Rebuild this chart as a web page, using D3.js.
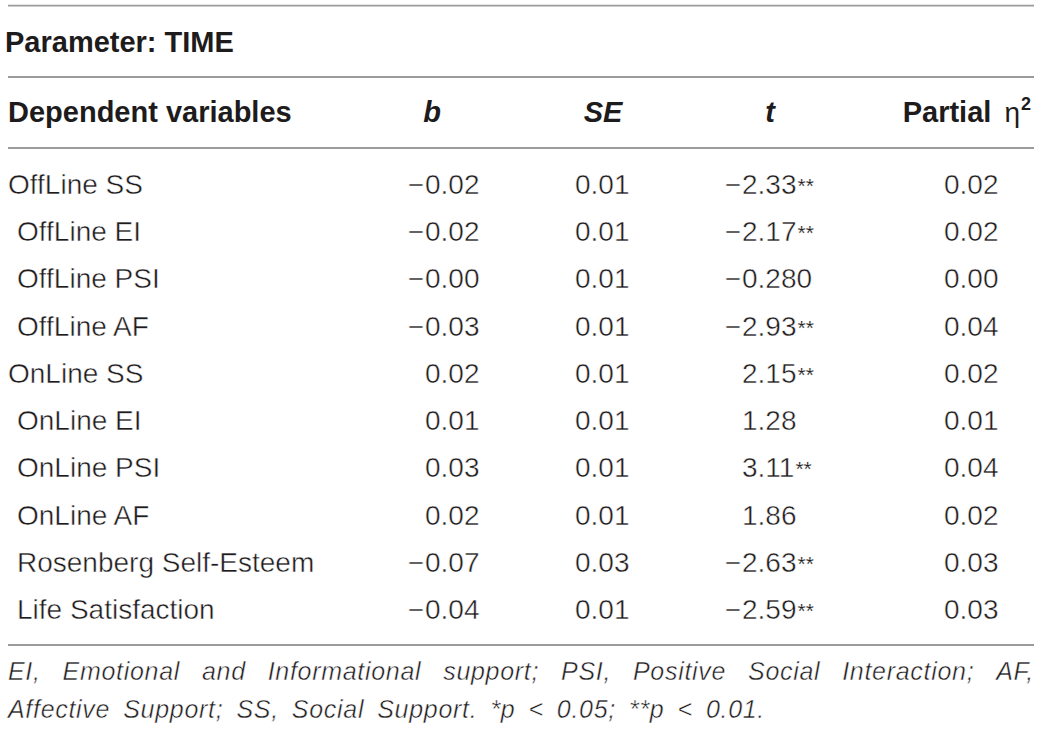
<!DOCTYPE html>
<html>
<head>
<meta charset="utf-8">
<script src="https://cdn.jsdelivr.net/npm/d3@7"></script>
<style>
  body { margin: 0; background: #fff; }
  svg text { font-family: "Liberation Sans", Arial, sans-serif; fill: #1e1b1c; }
  /* white outline drawn over the fill thins the regular face towards a light weight */
  svg text.light { stroke: #fff; stroke-width: 0.45px; }
  svg tspan.star { stroke-width: 0.15px; }
</style>
</head>
<body>
<div id="table"></div>
<script>
var width = 1042,
  height = 731;

var title = "Parameter: TIME";
var headers = ["Dependent variables", "b", "SE", "t", "Partial "];
var labels = [
  "OffLine SS",
  "OffLine EI",
  "OffLine PSI",
  "OffLine AF",
  "OnLine SS",
  "OnLine EI",
  "OnLine PSI",
  "OnLine AF",
  "Rosenberg Self-Esteem",
  "Life Satisfaction"
];
var levels = [0, 1, 1, 1, 0, 1, 1, 1, 1, 1];
var bValues = ["−0.02", "−0.02", "−0.00", "−0.03", "0.02", "0.01", "0.03", "0.02", "−0.07", "−0.04"];
var seValues = ["0.01", "0.01", "0.01", "0.01", "0.01", "0.01", "0.01", "0.01", "0.03", "0.01"];
var tValues = ["−2.33", "−2.17", "−0.280", "−2.93", "2.15", "1.28", "3.11", "1.86", "−2.63", "−2.59"];
var tStars = ["**", "**", "", "**", "**", "", "**", "", "**", "**"];
var etaValues = ["0.02", "0.02", "0.00", "0.04", "0.02", "0.01", "0.04", "0.02", "0.03", "0.03"];
var footnote = [
  "EI, Emotional and Informational support; PSI, Positive Social Interaction; AF,",
  "Affective Support; SS, Social Support. *p < 0.05; **p < 0.01."
];

var left = 8,
  right = 1034;

var svg = d3
  .select("#table")
  .append("svg")
  .attr("width", width)
  .attr("height", height);

// horizontal rules
var rules = [5.7, 77, 148, 645];
svg
  .selectAll("line.rule")
  .data(rules)
  .enter()
  .append("line")
  .attr("class", "rule")
  .attr("x1", left)
  .attr("x2", right)
  .attr("y1", d => d)
  .attr("y2", d => d)
  .style("stroke", "#9b9b9b")
  .style("stroke-width", 1.8);

svg
  .append("text")
  .attr("x", 5)
  .attr("y", 51.5)
  .style("font-size", "29px")
  .style("font-weight", 700)
  .text(title);

// header row
var headerY = 121.7;
svg
  .append("text")
  .attr("x", 8)
  .attr("y", headerY)
  .style("font-size", "29px")
  .style("font-weight", 700)
  .text(headers[0]);

var headerX = [null, 432, 603, 770, 1031];
[1, 2, 3].forEach(function(i) {
  svg
    .append("text")
    .attr("x", headerX[i])
    .attr("y", headerY)
    .attr("text-anchor", "middle")
    .style("font-size", "29px")
    .style("font-weight", 700)
    .style("font-style", "italic")
    .text(headers[i]);
});
var eta = svg
  .append("text")
  .attr("x", headerX[4])
  .attr("y", headerY)
  .attr("text-anchor", "end")
  .style("font-size", "29px")
  .style("font-weight", 700);
eta.append("tspan").text(headers[4]);
eta
  .append("tspan")
  .attr("dx", 5)
  .style("font-weight", 400)
  .style("font-size", "28px")
  .text("η");
eta
  .append("tspan")
  .attr("dy", -12)
  .attr("dx", 1)
  .style("font-size", "18px")
  .text("2");

// body rows
var y = d3
  .scaleBand()
  .domain(d3.range(labels.length))
  .range([160, 633]);

var cols = {
  b: 425,
  se: 575,
  t: 742,
  eta: 944
};

var rows = svg
  .selectAll("g.row")
  .data(labels)
  .enter()
  .append("g")
  .attr("class", "row")
  .attr("transform", (d, i) => `translate(0,${y(i) + y.bandwidth() / 2 + 10})`);

function body(sel) {
  return sel.attr("class", "light").style("font-size", "28px");
}

body(rows.append("text"))
  .attr("x", (d, i) => (levels[i] ? 17 : 8))
  .text(d => d);

// numeric cells aligned on the digits, minus sign hangs to the left
function numCell(values, x, stars) {
  rows.each(function(d, i) {
    var g = d3.select(this);
    var v = values[i];
    var neg = v.charAt(0) === "−";
    if (neg) {
      body(g.append("text"))
        .attr("x", x - 1)
        .attr("text-anchor", "end")
        .text("−");
    }
    var t = body(g.append("text")).attr("x", x);
    t.append("tspan").text(neg ? v.slice(1) : v);
    if (stars && stars[i]) {
      t.append("tspan")
        .attr("class", "star")
        .attr("dx", 1)
        .attr("dy", -1)
        .style("font-size", "21px")
        .text(stars[i]);
    }
  });
}

numCell(bValues, cols.b);
numCell(seValues, cols.se);
numCell(tValues, cols.t, tStars);
numCell(etaValues, cols.eta);

// footnote: each line spread over its own width
var footY = [680, 718];
var footRight = [right, 765];
footnote.forEach(function(line, li) {
  var words = line.split(" ");
  var g = svg.append("g");
  var nodes = words.map(function(w) {
    return body(g.append("text"))
      .attr("y", footY[li])
      .style("font-size", "25px")
      .style("font-style", "italic")
      .style("letter-spacing", "0.7px")
      .text(w);
  });
  var widths = nodes.map(n => n.node().getComputedTextLength());
  var gap = (footRight[li] - left - d3.sum(widths)) / (words.length - 1);
  var x = left;
  nodes.forEach(function(n, i) {
    n.attr("x", x);
    x += widths[i] + gap;
  });
});
</script>
</body>
</html>
